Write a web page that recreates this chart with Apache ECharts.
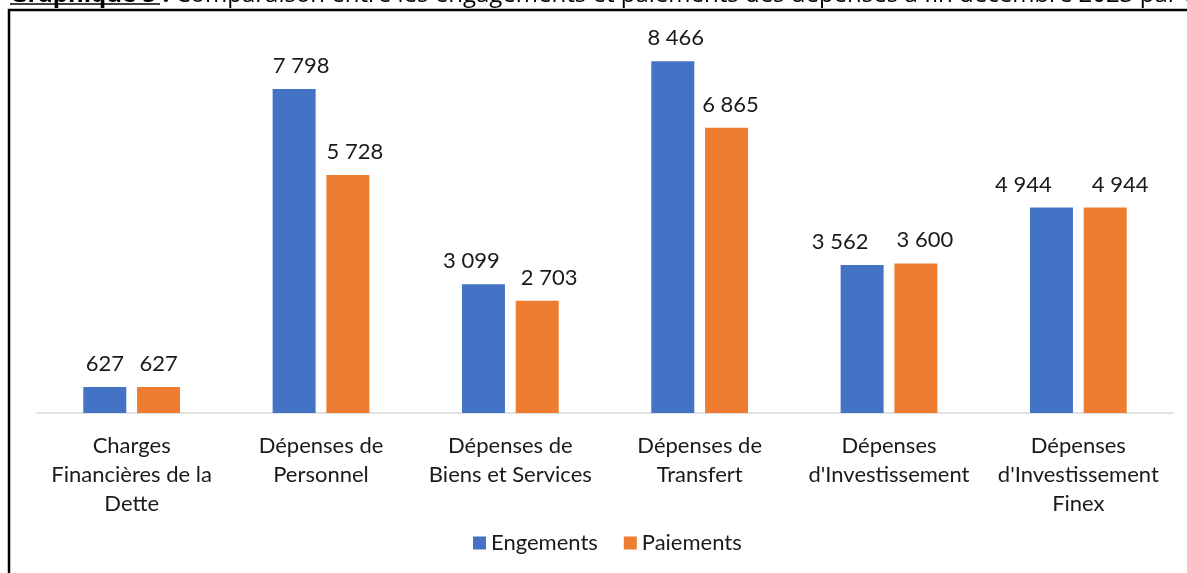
<!DOCTYPE html>
<html>
<head>
    <meta charset="utf-8">
    <title>Engagements et paiements</title>
    <script src="https://cdn.jsdelivr.net/npm/echarts@6/dist/echarts.min.js"></script>
    <style>
        html, body { margin: 0; padding: 0; background: #fff; }
    </style>
</head>
<body>
<div id="chartmain" style="width: 1187px; height: 573px;"></div>
<script type="text/javascript">
    // donnees
    var categories = [
        'Charges\nFinancières de la\nDette',
        'Dépenses de\nPersonnel',
        'Dépenses de\nBiens et Services',
        'Dépenses de\nTransfert',
        'Dépenses\nd\'Investissement',
        'Dépenses\nd\'Investissement\nFinex'
    ];
    var engagements = [627, 7798, 3099, 8466, 3562, 4944];
    var paiements = [627, 5728, 2703, 6865, 3600, 4944];
    var seriesNames = ['Engements', 'Paiements'];

    // petits decalages des etiquettes (comme dans Excel)
    var shiftEng = [0, 7, -12, 3, -22, -28];
    var shiftPai = [0, 7, 12, 4, 9, 15];

    var police = 'Lato, "Open Sans", sans-serif';

    function fmt(v) {
        return String(v).replace(/\B(?=(\d{3})+(?!\d))/g, ' ');
    }

    function labelData(values, shifts) {
        var out = [];
        for (var i = 0; i < values.length; i++) {
            out.push({ value: values[i], label: { offset: [shifts[i], 0] } });
        }
        return out;
    }

    var labelCommun = {
        show: true,
        position: 'top',
        distance: 12,
        color: '#1a1a1a',
        fontSize: 22,
        fontFamily: police,
        formatter: function (p) { return fmt(p.value); }
    };

    var myChart = echarts.init(document.getElementById('chartmain'));
    var option = {
        animation: false,
        backgroundColor: '#fff',
        graphic: [
            {
                type: 'text',
                left: 10,
                top: -17,
                style: {
                    text: '{b|Graphique 5 :} Comparaison entre les engagements et paiements des dépenses à fin décembre 2023 par titre',
                    fontSize: 24,
                    fontFamily: '"Open Sans", sans-serif',
                    fill: '#000',
                    rich: {
                        b: { fontWeight: 'bold', fontSize: 24, fontFamily: '"Open Sans", sans-serif' }
                    }
                }
            },
            {
                type: 'line',
                shape: { x1: 10, y1: 4, x2: 160, y2: 4 },
                style: { stroke: '#000', lineWidth: 1.5 }
            },
            {
                type: 'polyline',
                shape: { points: [[9, 580], [9, 10], [1190, 10]] },
                style: { stroke: '#000', lineWidth: 2.5, fill: null }
            }
        ],
        grid: { left: 37, right: 14, top: 39, bottom: 160 },
        legend: {
            bottom: 14,
            left: 468,
            itemWidth: 13,
            itemHeight: 13,
            itemGap: 26,
            icon: 'rect',
            textStyle: { fontSize: 22, fontFamily: police, color: '#1a1a1a' },
            data: seriesNames
        },
        xAxis: {
            type: 'category',
            data: categories,
            axisLine: { lineStyle: { color: '#d9d9d9', width: 1.5 } },
            axisTick: { show: false },
            axisLabel: {
                interval: 0,
                margin: 18,
                fontSize: 22,
                lineHeight: 29,
                color: '#1a1a1a',
                fontFamily: police
            }
        },
        yAxis: {
            type: 'value',
            min: 0,
            max: 9000,
            interval: 1000,
            show: false,
            splitLine: { show: false }
        },
        series: [
            {
                name: seriesNames[0],
                type: 'bar',
                barWidth: 43,
                barGap: '25%',
                itemStyle: { color: '#4472C4' },
                label: labelCommun,
                data: labelData(engagements, shiftEng)
            },
            {
                name: seriesNames[1],
                type: 'bar',
                barWidth: 43,
                barGap: '25%',
                itemStyle: { color: '#ED7D31' },
                label: labelCommun,
                data: labelData(paiements, shiftPai)
            }
        ]
    };
    myChart.setOption(option);
</script>
</body>
</html>
